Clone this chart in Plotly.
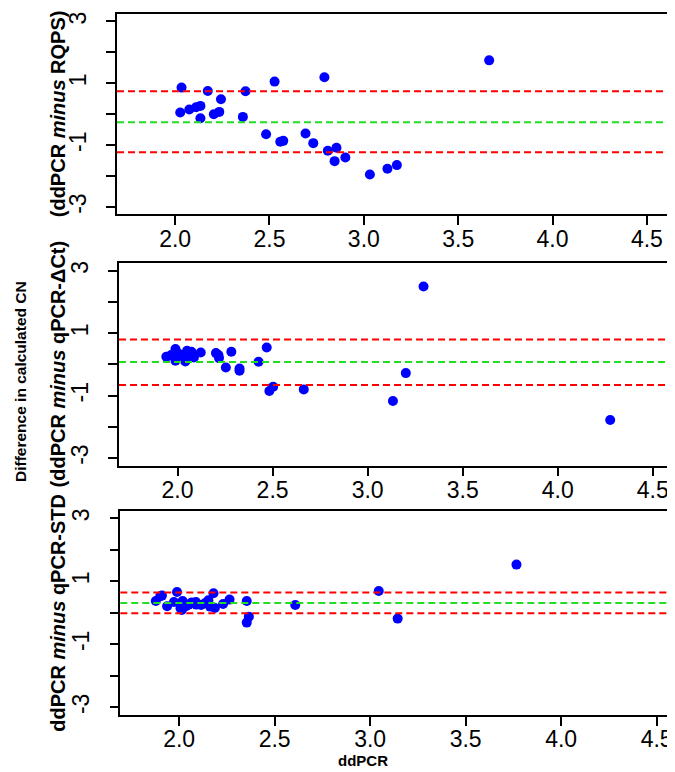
import plotly.graph_objects as go

# ---------------- data ----------------
# Panel 1: ddPCR vs (ddPCR minus RQPS)
p1_x = [2.034, 2.027, 2.075, 2.111, 2.134, 2.134, 2.173, 2.205, 2.234, 2.243,
        2.359, 2.373, 2.527, 2.482, 2.557, 2.573, 2.691, 2.732, 2.791, 2.809,
        2.855, 2.845, 2.902, 3.032, 3.125, 3.175, 3.664]
p1_y = [0.86, 0.054, 0.151, 0.226, 0.269, -0.129, 0.753, 0.0, 0.075, 0.484,
        -0.086, 0.742, 1.054, -0.645, -0.892, -0.860, -0.624, -0.935, 1.194, -1.183,
        -1.086, -1.516, -1.398, -1.946, -1.763, -1.645, 1.742]
p1_mean = -0.258
p1_upper = 0.742
p1_lower = -1.226

# Panel 2: ddPCR vs (ddPCR minus qPCR-dCt)
p2_x = [1.941, 1.966, 1.989, 1.989, 2.005, 2.018, 2.041, 2.050, 2.063, 2.073,
        2.086, 2.122, 2.202, 2.215, 2.218, 2.254, 2.283, 2.326, 2.326, 2.426,
        2.469, 2.483, 2.503, 2.664, 3.133, 3.201, 3.294, 4.276]
p2_y = [0.246, 0.299, 0.491, 0.118, 0.352, 0.288, 0.096, 0.438, 0.331, 0.406,
        0.224, 0.384, 0.363, 0.299, 0.203, -0.096, 0.406, -0.128, -0.203, 0.086,
        0.545, -0.854, -0.715, -0.800, -1.174, -0.278, 2.498, -1.783]
p2_mean = 0.075
p2_upper = 0.80
p2_lower = -0.662

# Panel 3: ddPCR vs (ddPCR minus qPCR-STD)
p3_x = [1.878, 1.901, 1.910, 1.937, 1.973, 1.989, 2.007, 2.018, 2.014, 2.036,
        2.050, 2.065, 2.088, 2.090, 2.115, 2.135, 2.153, 2.162, 2.180, 2.187,
        2.230, 2.264, 2.354, 2.354, 2.365, 2.608, 3.045, 3.144, 3.766]
p3_y = [0.376, 0.524, 0.545, 0.206, 0.344, 0.661, 0.143, 0.376, 0.090, 0.206,
        0.259, 0.323, 0.344, 0.259, 0.249, 0.302, 0.397, 0.196, 0.619, 0.153,
        0.280, 0.418, 0.376, -0.312, -0.122, 0.249, 0.693, -0.185, 1.529]
p3_mean = 0.312
p3_upper = 0.64
p3_lower = -0.016

x_tickvals = [2.0, 2.5, 3.0, 3.5, 4.0, 4.5]
x_ticktext = ["2.0", "2.5", "3.0", "3.5", "4.0", "4.5"]
y_tickvals = [-3, -2, -1, 0, 1, 2, 3]
y_ticktext = ["-3", "", "-1", "", "1", "", "3"]

panel_titles = ["<b>(ddPCR <i>minus</i> RQPS)</b>",
                "<b>(ddPCR <i>minus</i> qPCR-ΔCt)</b>",
                "<b>ddPCR <i>minus</i> qPCR-STD</b>"]
common_ylabel = "<b>Difference in calculated CN</b>"
x_label = "<b>ddPCR</b>"

# ---------------- layout geometry (pixels) ----------------
W, H = 675, 772
boxes = [  # left, right, top, bottom in px
    (109, 659.3, 4, 205),
    (111, 665.3, 254, 456.7),
    (112.3, 669.3, 502, 706.7),
]

fig = go.Figure()
panels = [(p1_x, p1_y, p1_mean, p1_upper, p1_lower),
          (p2_x, p2_y, p2_mean, p2_upper, p2_lower),
          (p3_x, p3_y, p3_mean, p3_upper, p3_lower)]

RED = "#FF0000"
GREEN = "#22DD22"
FONT = "Liberation Sans, Arial, sans-serif"
tick_font = dict(family=FONT, size=23, color="black")

for i, (px, py, m, up, lo) in enumerate(panels):
    n = "" if i == 0 else str(i + 1)
    xa, ya = "x" + n, "y" + n
    fig.add_trace(go.Scatter(x=px, y=py, mode="markers", xaxis=xa, yaxis=ya,
                             marker=dict(color="#0000FF", size=10, line=dict(width=0)),
                             showlegend=False, hoverinfo="skip"))
    for val, col in [(up, RED), (m, GREEN), (lo, RED)]:
        fig.add_shape(type="line", xref=xa + " domain", yref=ya, x0=0, x1=1, y0=val, y1=val,
                      line=dict(color=col, width=2, dash="7px,4px"))
    l, r, t, b = boxes[i]
    fig.layout["xaxis" + n] = dict(
        domain=[l / W, r / W], range=[1.692, 4.608], anchor=ya,
        showline=True, mirror=True, linecolor="black", linewidth=1.5,
        ticks="outside", ticklen=9, tickwidth=1.5, tickcolor="black",
        tickvals=x_tickvals, ticktext=x_ticktext, tickfont=tick_font,
        ticklabelstandoff=-6,
        showgrid=False, zeroline=False)
    fig.layout["yaxis" + n] = dict(
        domain=[1 - b / H, 1 - t / H], range=[-3.24, 3.24], anchor=xa,
        showline=True, mirror=True, linecolor="black", linewidth=1.5,
        ticks="outside", ticklen=9, tickwidth=1.5, tickcolor="black",
        tickvals=y_tickvals, ticktext=y_ticktext, tickfont=tick_font,
        tickangle=-90, ticklabelstandoff=11,
        showgrid=False, zeroline=False)
    fig.add_annotation(text=panel_titles[i], xref="paper", yref="paper",
                       x=50 / W, y=1 - (t + b) / 2 / H, textangle=-90,
                       xanchor="center", yanchor="middle", showarrow=False,
                       font=dict(family=FONT, size=20, color="black"))

fig.add_annotation(text=common_ylabel, xref="paper", yref="paper",
                   x=12 / W, y=1 - 373 / H, textangle=-90,
                   xanchor="center", yanchor="middle", showarrow=False,
                   font=dict(family=FONT, size=15.5, color="black"))
fig.add_annotation(text=x_label, xref="paper", yref="paper",
                   x=355 / W, y=1 - 752 / H,
                   xanchor="center", yanchor="middle", showarrow=False,
                   font=dict(family=FONT, size=15, color="black"))

fig.update_layout(width=W, height=H, margin=dict(l=0, r=0, t=0, b=0),
                  paper_bgcolor="white", plot_bgcolor="white")

fig.write_html("out.html")
